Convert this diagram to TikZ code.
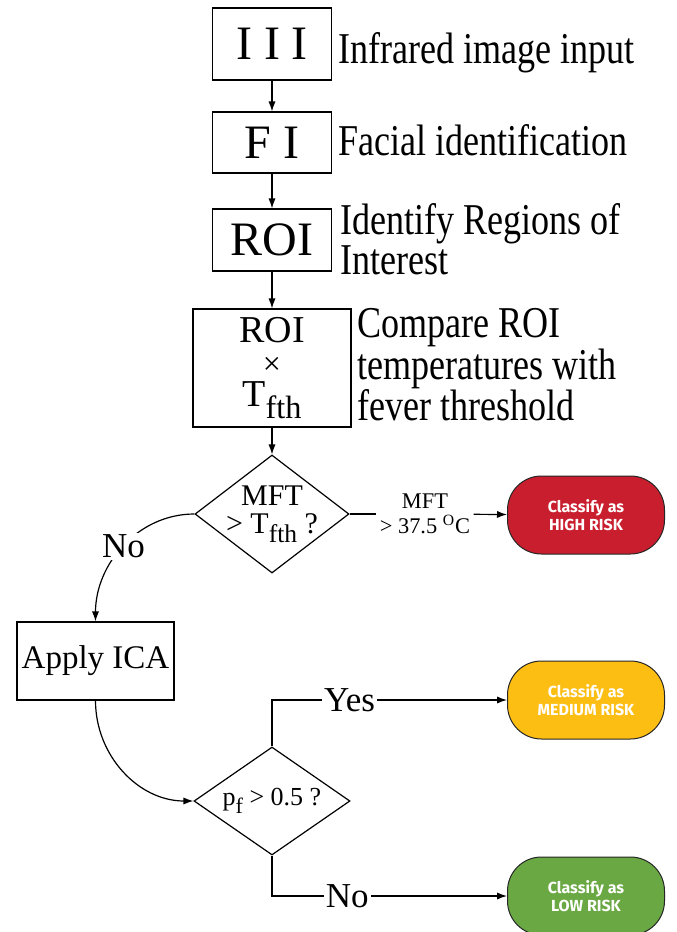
\documentclass[tikz,border=0pt]{standalone}
\usepackage{fontspec}
\setmainfont{Liberation Serif}
\newfontfamily\tallserif[FakeStretch=0.82]{Liberation Serif}
\newfontfamily\riskfont{Fira Sans}
\usetikzlibrary{arrows.meta,shapes.geometric}
\definecolor{riskred}{HTML}{C81E2D}
\definecolor{riskamber}{HTML}{FDBE14}
\definecolor{riskgreen}{HTML}{6AA844}
\newcommand{\lowsub}[1]{\raisebox{-0.3em}{\scalebox{0.85}{#1}}}
\tikzset{
  stage/.style={draw, rectangle, inner sep=0pt, line width=0.6pt},
  decision/.style={draw, diamond, inner sep=-10pt, line width=0.6pt, align=center},
  risk/.style={draw=black!85, rectangle, rounded corners=17pt, minimum width=78.5pt,
    minimum height=39pt, text=white, align=center, line width=0.5pt,
    font=\riskfont\bfseries\fontsize{8}{9}\selectfont},
  note/.style={font=\tallserif\fontsize{22}{20.75}\selectfont, inner sep=0pt, align=left},
  branch/.style={fill=white, inner sep=1pt, font=\fontsize{17.5}{18}\selectfont},
  flow/.style={-{Latex[length=5pt,width=3.6pt]}, line width=0.6pt}
}
\begin{document}
\begin{tikzpicture}[x=0.5pt,y=-0.5pt]
  \useasboundingbox (0,0) rectangle (676,932);
  % processing steps
  \node[stage, minimum width=59.5pt, minimum height=36pt, font=\fontsize{24}{24}\selectfont] (iii) at (272,44) {I I I};
  \node[stage, minimum width=59.5pt, minimum height=30.5pt, font=\fontsize{24}{24}\selectfont] (fi) at (272,142.5) {F I};
  \node[stage, minimum width=59.5pt, minimum height=31pt, font=\fontsize{24}{24}\selectfont] (roi) at (272,240) {ROI};
  \node[stage, minimum width=79pt, minimum height=59pt, align=center, font=\fontsize{19}{16}\selectfont] (cmp) at (272,368) {ROI\\{\fontsize{16}{16}\selectfont ×}\\T\lowsub{fth}};
  \node[decision, minimum width=77pt, minimum height=59pt, font=\fontsize{15}{14}\selectfont] (mft) at (272,514) {MFT\\> T\lowsub{fth} ?};
  \node[stage, minimum width=78.5pt, minimum height=39pt, font=\fontsize{16.5}{18}\selectfont] (ica) at (95.5,661) {Apply ICA};
  \node[decision, minimum width=78pt, minimum height=54pt, font=\fontsize{13}{14}\selectfont] (pf) at (272,801) {p\lowsub{f} > 0.5 ?};
  % outcomes
  \node[risk, fill=riskred] (high) at (586,515) {Classify as\\HIGH RISK};
  \node[risk, fill=riskamber] (med) at (586,700) {Classify as\\MEDIUM RISK};
  \node[risk, fill=riskgreen] (low) at (586,896) {Classify as\\LOW RISK};
  % notes
  \node[note, anchor=base west] (n1) at (338,63) {Infrared image input};
  \node[note, anchor=base west] (n2) at (338,155) {Facial identification};
  \node[note, anchor=west, font=\tallserif\fontsize{22}{18}\selectfont] (n3) at (340,239) {Identify Regions of\\Interest};
  \node[note, anchor=west] (n4) at (357,365) {Compare ROI\\temperatures with\\fever threshold};
  \node[align=center, inner sep=1.5pt, font=\fontsize{11.2}{12.5}\selectfont] (hot) at (425,514) {MFT\\> 37.5 \textsuperscript{O}C};
  % connectors
  \draw[flow] (iii) -- (fi);
  \draw[flow] (fi) -- (roi);
  \draw[flow] (roi) -- (cmp);
  \draw[flow] (cmp) -- (mft);
  \draw[line width=0.6pt] (mft) -- (hot);
  \draw[flow] (hot) -- (high);
  \draw[flow] (mft.west) to[out=180,in=90] node[branch] {No} (ica.north);
  \draw[flow] (ica.south) to[out=-90,in=180] (pf.west);
  \draw[flow] (pf.north) |- node[branch, pos=0.665] {Yes} (med.west);
  \draw[flow] (pf.south) |- node[branch, pos=0.66] {No} (low.west);
\end{tikzpicture}
\end{document}
